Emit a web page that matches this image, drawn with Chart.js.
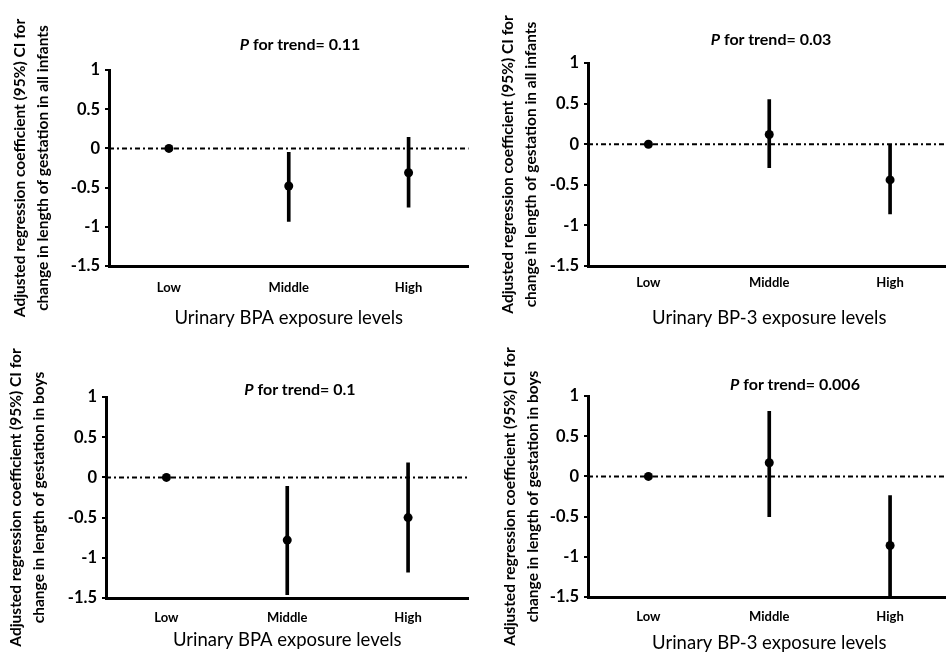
<!DOCTYPE html>
<html>
<head>
<meta charset="utf-8">
<script src="https://cdn.jsdelivr.net/npm/chart.js@4/dist/chart.umd.min.js"></script>
<style>
  html, body { margin: 0; padding: 0; background: #fff; overflow: hidden; }
  #wrap { position: relative; width: 946px; height: 671px; overflow: hidden; background: #fff; }
  .panel { position: absolute; }
  .trend { position: absolute; font-family: Lato, "Open Sans", sans-serif; font-weight: bold; font-size: 16px; color: #000; transform: translate(-50%, -50%); white-space: nowrap; }
</style>
</head>
<body>
<div id="wrap"></div>
<script>
// ---- datos ----
const categories = ['Low', 'Middle', 'High'];

const bpaAllEst = [0, -0.48, -0.31];
const bpaAllLo  = [null, -0.93, -0.75];
const bpaAllHi  = [null, -0.05, 0.14];

const bp3AllEst = [0, 0.12, -0.44];
const bp3AllLo  = [null, -0.29, -0.86];
const bp3AllHi  = [null, 0.55, -0.01];

const bpaBoysEst = [0, -0.78, -0.50];
const bpaBoysLo  = [null, -1.46, -1.18];
const bpaBoysHi  = [null, -0.11, 0.18];

const bp3BoysEst = [0, 0.17, -0.86];
const bp3BoysLo  = [null, -0.50, -1.52];
const bp3BoysHi  = [null, 0.81, -0.24];

const pTrend = ['0.11', '0.03', '0.1', '0.006'];
const yTickMin = -1.5, yTickMax = 1, yTickStep = 0.5;

const yTitleAll  = ['Adjusted regression coefficient (95%) CI for', 'change in length of gestation in all infants'];
const yTitleBoys = ['Adjusted regression coefficient (95%) CI for', 'change in length of gestation in boys'];
const xTitleBPA = 'Urinary BPA exposure levels';
const xTitleBP3 = 'Urinary BP-3 exposure levels';

const FONT = 'Lato, "Open Sans", sans-serif';

// linea de referencia en 0 (raya-punto)
const zeroLine = {
  id: 'zeroLine',
  beforeDatasetsDraw(chart) {
    const { ctx, chartArea, scales } = chart;
    const y = scales.y.getPixelForValue(0);
    ctx.save();
    ctx.strokeStyle = '#000';
    ctx.lineWidth = 2;
    ctx.setLineDash([5, 3, 2, 3]);
    ctx.beginPath();
    ctx.moveTo(chartArea.left, y);
    ctx.lineTo(chartArea.right, y);
    ctx.stroke();
    ctx.restore();
  }
};

const panels = [
  { left: 0,   top: 0,   w: 473, h: 335, padTop: 70, yW: 109, xH: 69, tickPad: 14, xTitlePad: 6,  yTitlePad: 9,
    est: bpaAllEst, lo: bpaAllLo, hi: bpaAllHi, p: pTrend[0], tx: 300, ty: 43, xTitle: xTitleBPA, yTitle: yTitleAll },
  { left: 473, top: 0,   w: 482, h: 335, padTop: 63, yW: 115, xH: 69, tickPad: 9, xTitlePad: 6,  yTitlePad: 24,
    est: bp3AllEst, lo: bp3AllLo, hi: bp3AllHi, p: pTrend[1], tx: 771, ty: 38, xTitle: xTitleBP3, yTitle: yTitleAll },
  { left: 0,   top: 335, w: 473, h: 336, padTop: 62, yW: 106, xH: 73, tickPad: 12, xTitlePad: 20, yTitlePad: 5,
    est: bpaBoysEst, lo: bpaBoysLo, hi: bpaBoysHi, p: pTrend[2], tx: 300, ty: 388, xTitle: xTitleBPA, yTitle: yTitleBoys },
  { left: 473, top: 335, w: 482, h: 336, padTop: 61, yW: 115, xH: 74, tickPad: 12, xTitlePad: 17, yTitlePad: 26,
    est: bp3BoysEst, lo: bp3BoysLo, hi: bp3BoysHi, p: pTrend[3], tx: 795, ty: 383, xTitle: xTitleBP3, yTitle: yTitleBoys }
];

const wrap = document.getElementById('wrap');

panels.forEach(pn => {
  const div = document.createElement('div');
  div.className = 'panel';
  div.style.left = pn.left + 'px';
  div.style.top = pn.top + 'px';
  const canvas = document.createElement('canvas');
  canvas.width = pn.w;
  canvas.height = pn.h;
  div.appendChild(canvas);
  wrap.appendChild(div);

  const t = document.createElement('div');
  t.className = 'trend';
  t.style.left = pn.tx + 'px';
  t.style.top = pn.ty + 'px';
  t.innerHTML = '<i>P</i> for trend= ' + pn.p;
  wrap.appendChild(t);

  new Chart(canvas.getContext('2d'), {
    data: {
      labels: categories,
      datasets: [
        {
          type: 'line',
          data: pn.est,
          showLine: false,
          pointRadius: 4.5,
          pointBackgroundColor: '#000',
          pointBorderColor: '#000',
          pointBorderWidth: 0,
          order: 0
        },
        {
          type: 'bar',
          data: categories.map((c, i) => pn.lo[i] === null ? null : [pn.lo[i], pn.hi[i]]),
          backgroundColor: '#000',
          barThickness: 3,
          order: 1
        }
      ]
    },
    options: {
      responsive: false,
      animation: false,
      layout: { padding: { top: pn.padTop, left: 0, right: 0, bottom: 0 } },
      plugins: { legend: { display: false }, tooltip: { enabled: false }, title: { display: false } },
      scales: {
        x: {
          type: 'category',
          grid: { display: false, drawTicks: false },
          border: { display: true, color: '#000', width: 3 },
          ticks: { color: '#000', padding: pn.tickPad, font: { family: FONT, size: 13, weight: 'bold' } },
          title: {
            display: true, text: pn.xTitle, color: '#000',
            font: { family: FONT, size: 18.5 }, padding: { top: 0, bottom: pn.xTitlePad }
          },
          afterFit(scale) { scale.height = pn.xH; }
        },
        y: {
          min: yTickMin,
          max: yTickMax,
          grid: { drawOnChartArea: false, drawTicks: true, tickLength: 4, color: '#000', lineWidth: 2 },
          border: { display: true, color: '#000', width: 3 },
          ticks: {
            stepSize: yTickStep, color: '#000', padding: 5,
            font: { family: FONT, size: 16.5, weight: 'bold' },
            callback: v => String(+v.toFixed(1))
          },
          title: {
            display: true, text: pn.yTitle, color: '#000',
            font: { family: FONT, size: 15.5, weight: 'bold', lineHeight: 1.45 }, padding: { top: pn.yTitlePad, bottom: 0 }
          },
          afterFit(scale) { scale.width = pn.yW; }
        }
      }
    },
    plugins: [zeroLine]
  });
});
</script>
</body>
</html>
